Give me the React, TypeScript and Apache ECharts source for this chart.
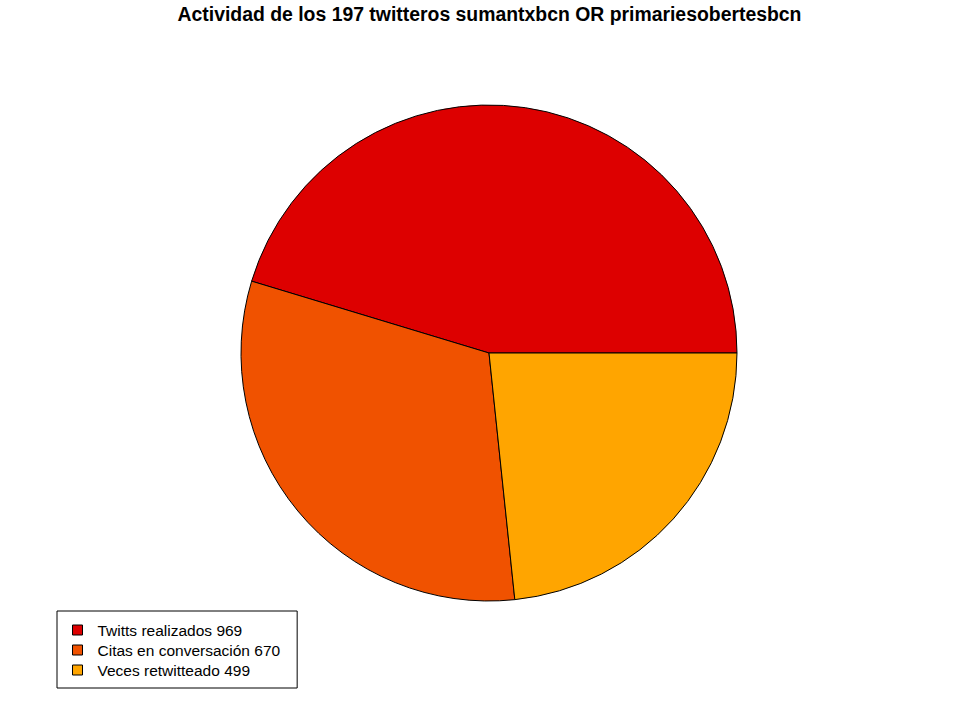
import { useEffect, useRef } from 'react';
import * as echarts from 'echarts';

const titleText = 'Actividad de los 197 twitteros sumantxbcn OR primariesobertesbcn';
const categories = ['Twitts realizados', 'Citas en conversación', 'Veces retwitteado'];
const values = [969, 670, 499];
const colors = ['#DD0000', '#F05200', '#FFA500'];

export default function App() {
  const chartRef = useRef<HTMLDivElement>(null);

  useEffect(() => {
    if (!chartRef.current) return;
    document.body.style.margin = '0';
    const chart = echarts.init(chartRef.current, undefined, { renderer: 'svg' });

    const option: echarts.EChartsOption = {
      animation: false,
      backgroundColor: '#ffffff',
      title: {
        text: titleText,
        left: 'center',
        top: -1,
        textStyle: {
          fontFamily: 'Liberation Sans, Arial, sans-serif',
          fontSize: 19.4,
          fontWeight: 'bold',
          color: '#000',
        },
      },
      legend: {
        orient: 'vertical',
        left: 57,
        top: 611,
        padding: [11, 17, 10, 15],
        borderColor: '#000',
        borderWidth: 1,
        borderRadius: 0,
        itemWidth: 10,
        itemHeight: 10,
        itemGap: 4,
        icon: 'rect',
        selectedMode: false,
        itemStyle: { borderColor: '#000', borderWidth: 1 },
        textStyle: {
          fontFamily: 'Liberation Sans, Arial, sans-serif',
          fontSize: 15.5,
          color: '#000',
          padding: [0, 0, 0, 10],
        },
        formatter: (name: string) => `${name} ${values[categories.indexOf(name)]}`,
        data: categories,
      },
      series: [
        {
          type: 'pie',
          center: [489, 353],
          radius: 248,
          startAngle: 0,
          clockwise: false,
          silent: true,
          label: { show: false },
          labelLine: { show: false },
          itemStyle: { borderColor: '#000', borderWidth: 1 },
          data: categories.map((c, i) => ({
            name: c,
            value: values[i],
            itemStyle: { color: colors[i] },
          })),
        },
      ],
    };

    chart.setOption(option);
    return () => {
      chart.dispose();
    };
  }, []);

  return <div ref={chartRef} style={{ width: 979, height: 708 }} />;
}
